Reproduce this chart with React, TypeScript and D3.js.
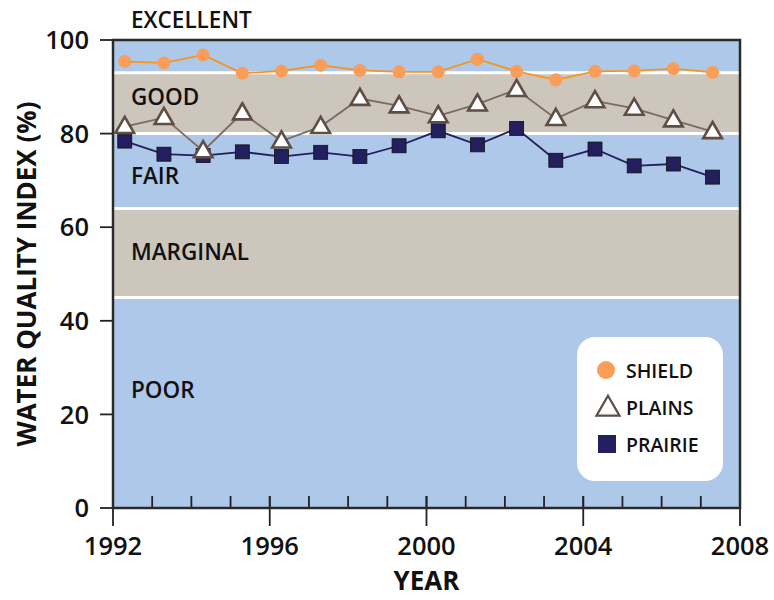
import * as d3 from 'd3';

// sampling years (points sit ~0.3 yr right of the tick)
const years = [1992, 1993, 1994, 1995, 1996, 1997, 1998, 1999, 2000, 2001, 2002, 2003, 2004, 2005, 2006, 2007];
const shield = [95.4, 95.1, 96.8, 92.9, 93.4, 94.6, 93.5, 93.2, 93.2, 95.9, 93.3, 91.5, 93.3, 93.4, 93.9, 93.1];
const plains = [81.5, 83.4, 76.3, 84.4, 78.4, 81.5, 87.5, 85.9, 83.8, 86.3, 89.4, 83.2, 87.0, 85.4, 82.9, 80.4];
const prairie = [78.4, 75.6, 75.3, 76.1, 75.1, 76.0, 75.1, 77.4, 80.6, 77.6, 81.1, 74.3, 76.7, 73.1, 73.5, 70.7];

const bandNames = ['POOR', 'MARGINAL', 'FAIR', 'GOOD', 'EXCELLENT'];
const bandLow = [0, 45, 64, 80, 93];
const bandHigh = [45, 64, 80, 93, 100];
const bandLabelY = [390, 252, 176, 97, 20];

const yTicks = [0, 20, 40, 60, 80, 100];
const xMajor = [1992, 1996, 2000, 2004, 2008];

const BLUE = '#adc8e8';
const BEIGE = '#cdc6bc';
const ORANGE_LINE = '#f7941d';
const ORANGE = '#f99d58';
const BROWN = '#5e4e45';
const BROWN_LINE = '#7b6c62';
const NAVY = '#231f5e';
const FONT = '"Open Sans", Lato, sans-serif';

const margin = { top: 40, right: 34, bottom: 92, left: 113 };
const width = 774;
const height = 600;

export default function App() {
  const x = d3.scaleLinear().domain([1992, 2008]).range([margin.left, width - margin.right]);
  const y = d3.scaleLinear().domain([0, 100]).range([height - margin.bottom, margin.top]);
  const off = 0.3;

  const line = (vals: number[]) =>
    d3.line<number>().x((_, i) => x(years[i] + off)).y(d => y(d))(vals) || '';

  const tri = d3.symbol().type(d3.symbolTriangle).size(150)() || '';
  const allYears = d3.range(1993, 2008);

  const x0 = x(1992), x1 = x(2008), yTop = y(100), yBot = y(0);

  return (
    <svg width={width} height={height} style={{ position: 'absolute', left: 0, top: 0, fontFamily: FONT }}>
      <rect width={width} height={height} fill="#ffffff" />

      {/* bands */}
      {bandNames.map((b, i) => (
        <rect key={b} x={x0} y={y(bandHigh[i])} width={x1 - x0} height={y(bandLow[i]) - y(bandHigh[i])}
          fill={i % 2 === 0 ? BLUE : BEIGE} />
      ))}
      {bandLow.slice(1).map(v => (
        <line key={v} x1={x0} x2={x1} y1={y(v)} y2={y(v)} stroke="#fff" strokeWidth={3} />
      ))}

      {/* band labels */}
      {bandNames.map((b, i) => (
        <text key={b} x={131} y={bandLabelY[i]} dy="0.36em" fontSize={22.5} fontWeight={600} fill="#111">{b}</text>
      ))}

      {/* x ticks */}
      {allYears.map(t => (
        <line key={t} x1={x(t)} x2={x(t)} y1={yBot - 12} y2={yBot} stroke="#222" strokeWidth={1.8} />
      ))}
      {xMajor.map(t => (
        <g key={t}>
          <line x1={x(t)} x2={x(t)} y1={yBot - 12} y2={yBot + 18} stroke="#222" strokeWidth={1.8} />
          <text x={x(t)} y={yBot + 38} dy="0.36em" textAnchor="middle" fontSize={25.5} fontWeight={600} fill="#111">{t}</text>
        </g>
      ))}

      {/* y ticks */}
      {yTicks.map(t => (
        <g key={t}>
          <line x1={x0 - 13} x2={x0} y1={y(t)} y2={y(t)} stroke="#222" strokeWidth={1.8} />
          <text x={x0 - 24} y={y(t)} dy="0.36em" textAnchor="end" fontSize={25.5} fontWeight={600} fill="#111">{t}</text>
        </g>
      ))}

      {/* frame */}
      <rect x={x0} y={yTop} width={x1 - x0} height={yBot - yTop} fill="none" stroke="#2a2a2a" strokeWidth={2.5} />

      {/* series lines */}
      <path d={line(shield)} fill="none" stroke={ORANGE_LINE} strokeWidth={1.8} />
      <path d={line(prairie)} fill="none" stroke={NAVY} strokeWidth={1.8} />
      <path d={line(plains)} fill="none" stroke={BROWN_LINE} strokeWidth={1.8} />

      {/* markers */}
      {shield.map((v, i) => (
        <circle key={'s' + i} cx={x(years[i] + off)} cy={y(v)} r={6.5} fill={ORANGE} />
      ))}
      {prairie.map((v, i) => (
        <rect key={'p' + i} x={x(years[i] + off) - 7} y={y(v) - 7} width={14} height={14} fill={NAVY} stroke="#111" strokeWidth={0.8} />
      ))}
      {plains.map((v, i) => (
        <path key={'t' + i} d={tri} transform={`translate(${x(years[i] + off)},${y(v) + 1})`} fill="#fff" stroke={BROWN} strokeWidth={2.6} strokeLinejoin="miter" />
      ))}

      {/* legend */}
      <rect x={577} y={337} width={146} height={144} rx={18} fill="#fff" />
      <circle cx={606} cy={370} r={9} fill={ORANGE} />
      <text x={626} y={371} dy="0.36em" fontSize={19.5} fontWeight={600} fill="#111">SHIELD</text>
      <path d={d3.symbol().type(d3.symbolTriangle).size(230)() || ''} transform="translate(608,409)" fill="#fff" stroke={BROWN} strokeWidth={2.2} />
      <text x={626} y={408} dy="0.36em" fontSize={19.5} fontWeight={600} fill="#111">PLAINS</text>
      <rect x={598} y={435} width={18} height={18} fill={NAVY} />
      <text x={626} y={445} dy="0.36em" fontSize={19.5} fontWeight={600} fill="#111">PRAIRIE</text>

      {/* axis titles */}
      <text transform={`translate(27,${(yTop + yBot) / 2}) rotate(-90)`} textAnchor="middle" dy="0.36em"
        fontSize={26} fontWeight={700} fill="#111">WATER QUALITY INDEX (%)</text>
      <text x={(x0 + x1) / 2} y={590} textAnchor="middle" fontSize={26} fontWeight={700} fill="#111">YEAR</text>
    </svg>
  );
}
